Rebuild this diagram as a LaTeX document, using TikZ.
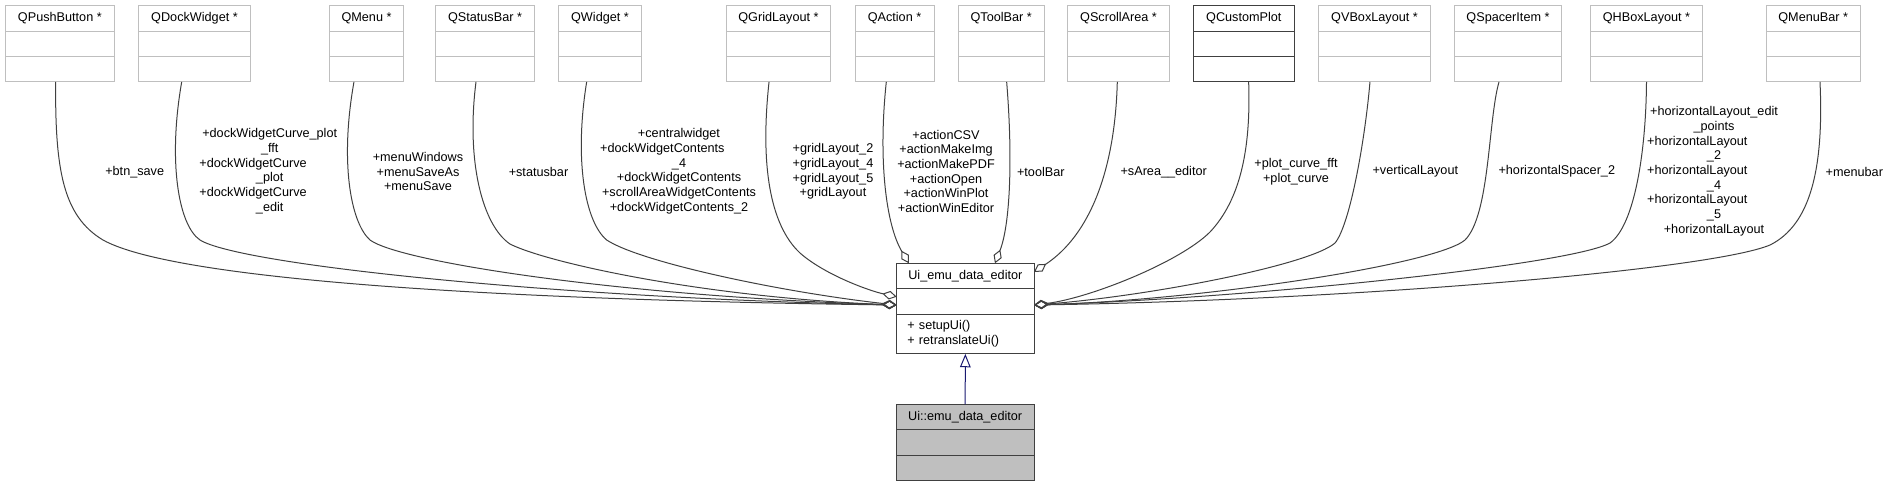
\documentclass[tikz,border=0pt]{standalone}
\usepackage{fontspec}
\setmainfont{Liberation Sans}
\usetikzlibrary{positioning,arrows.meta}

\definecolor{edgegray}{HTML}{404040}
\definecolor{boxgray}{HTML}{BFBFBF}
\definecolor{inhblue}{HTML}{191970}

% line of a label that graphviz wrapped: sits a bit to the left
\newcommand{\wrapln}[1]{\hspace*{-25pt}#1}
% class box: title, then two empty compartments
\newcommand{\umlclass}[5][cls]{%
  \node[#1, minimum width=#4*\px] (#2) at (#3,18.4) {#5};
  \node[#1, minimum width=#4*\px, below=0pt of #2] (#2-a) {};
  \node[#1, minimum width=#4*\px, below=0pt of #2-a] (#2-o) {};}

\begin{document}
\begin{tikzpicture}[x=0.75pt,y=-0.75pt,font=\fontsize{9.5}{11}\selectfont]

\def\px{0.75pt}
\tikzstyle{cls} = [
	draw=boxgray, rectangle, line width=\px, inner sep=1pt, outer sep=0pt,
	minimum height=25.4*\px ];
\tikzstyle{doc} = [cls, draw=edgegray];
\tikzstyle{base} = [doc, fill=boxgray];
\tikzstyle{lbl} = [align=center, inner sep=0pt];
\tikzstyle{agg} = [draw=edgegray, line width=\px,
	-{Diamond[open, length=11pt, width=6.5pt]}];
\tikzstyle{inh} = [draw=inhblue, line width=\px,
	-{Triangle[open, length=10pt, width=8pt]}];
\useasboundingbox (0,0) rectangle (1889,487);

\umlclass{pb}{59.85}{109.7}{QPushButton *}
\umlclass{dw}{194.5}{112.4}{QDockWidget *}
\umlclass{mn}{366.5}{73.6}{QMenu *}
\umlclass{sb}{485}{98.6}{QStatusBar *}
\umlclass{wd}{600}{83.4}{QWidget *}
\umlclass{gr}{778.5}{104.4}{QGridLayout *}
\umlclass{ac}{894.5}{79}{QAction *}
\umlclass{tb}{1001.2}{85.7}{QToolBar *}
\umlclass{sa}{1118.5}{101.6}{QScrollArea *}
\umlclass[doc]{cp}{1243.85}{100.3}{QCustomPlot}
\umlclass{vb}{1374.5}{112.4}{QVBoxLayout *}
\umlclass{sp}{1508}{106.6}{QSpacerItem *}
\umlclass{hb}{1646.5}{112.4}{QHBoxLayout *}
\umlclass{mb}{1813.2}{93.7}{QMenuBar *}

\node[doc, minimum width=137.3*\px] (ui) at (965.35,276) {Ui\_emu\_data\_editor};
\node[doc, minimum width=137.3*\px, below=0pt of ui] (ui-a) {};
\node[doc, minimum height=39.8*\px, align=left, text width=87pt, inner xsep=8pt,
	below=0pt of ui-a] (ui-o) {+ setupUi()\\+ retranslateUi()};

\node[base, minimum width=138.3*\px] (sub) at (965.15,417.1) {Ui::emu\_data\_editor};
\node[base, minimum width=138.3*\px, below=0pt of sub] (sub-a) {};
\node[base, minimum width=138.3*\px, below=0pt of sub-a] (sub-o) {};

\draw[inh] (sub.north) -- (ui-o.south);

% members on the left
\draw[agg] ([xshift=-3.15pt]pb-o.south) .. controls (55,170) and (63,216) .. (103,240)
	.. controls (175,280) and (500,300) .. ([yshift=-2.7pt]ui-a.west);
\draw[agg] ([xshift=-9.6pt]dw-o.south) .. controls (168,160) and (178,225) .. (200,240)
	.. controls (240,265) and (560,298) .. ([yshift=-2.7pt]ui-a.west);
\draw[agg] ([xshift=-9.4pt]mn-o.south) .. controls (340,160) and (350,222) .. (370,240)
	.. controls (400,262) and (620,296) .. ([yshift=-2.7pt]ui-a.west);
\draw[agg] ([xshift=-6.75pt]sb-o.south) .. controls (466,160) and (482,225) .. (510,244)
	.. controls (545,262) and (700,297) .. ([yshift=-2.7pt]ui-a.west);
\draw[agg] ([xshift=-10pt]wd-o.south) .. controls (574,160) and (585,222) .. (606.7,240)
	.. controls (640,262) and (780,292) .. ([yshift=-2.7pt]ui-a.west);
\draw[agg] ([xshift=-7.1pt]gr-o.south) .. controls (760,165) and (770,225) .. (800,253)
	.. controls (825,275) and (870,291) .. ([yshift=3.5pt]ui-a.west);

% members on top
\draw[agg] ([xshift=-6.15pt]ac-o.south) .. controls (878,160) and (886,225) .. ([xshift=-42.3pt]ui.north);
\draw[agg] ([xshift=4.1pt]tb-o.south) .. controls (1013,160) and (1010,225) .. ([xshift=22.2pt]ui.north);
\draw[agg] ([xshift=-0.9pt]sa-o.south) .. controls (1115,170) and (1090,235) .. ([yshift=-6.5pt]ui.north east);

% members on the right
\draw[agg] ([xshift=3.6pt]cp-o.south) .. controls (1251,150) and (1240,200) .. (1210,232)
	.. controls (1180,262) and (1090,298) .. ([yshift=-2.7pt]ui-a.east);
\draw[agg] ([xshift=-3.4pt]vb-o.south) .. controls (1365,140) and (1350,225) .. (1335,243)
	.. controls (1310,265) and (1150,296) .. ([yshift=-2.7pt]ui-a.east);
\draw[agg] ([xshift=-6.75pt]sp-o.south) .. controls (1488,120) and (1490,215) .. (1465,240)
	.. controls (1435,265) and (1200,300) .. ([yshift=-2.7pt]ui-a.east);
\draw[agg] (hb-o.south) .. controls (1646,150) and (1635,225) .. (1610,243)
	.. controls (1570,265) and (1250,298) .. ([yshift=-2.7pt]ui-a.east);
\draw[agg] ([xshift=5.1pt]mb-o.south) .. controls (1824,170) and (1810,225) .. (1770,245)
	.. controls (1710,270) and (1350,300) .. ([yshift=-2.7pt]ui-a.east);

% member names
\node[lbl] (l-pb) at (134.7,171.7) {+btn\_save};
\node[lbl] (l-dw) at (269.7,171.3) {+dockWidgetCurve\_plot\\\_fft\\\wrapln{+dockWidgetCurve}\\\_plot\\\wrapln{+dockWidgetCurve}\\\_edit};
\node[lbl] (l-mn) at (418,171.7) {+menuWindows\\+menuSaveAs\\+menuSave};
\node[lbl] (l-sb) at (538.5,171.7) {+statusbar};
\node[lbl] (l-wd) at (679,171.3) {+centralwidget\\\wrapln{+dockWidgetContents}\\\_4\\+dockWidgetContents\\+scrollAreaWidgetContents\\+dockWidgetContents\_2};
\node[lbl] (l-gr) at (833,171.5) {+gridLayout\_2\\+gridLayout\_4\\+gridLayout\_5\\+gridLayout};
\node[lbl] (l-ac) at (946,171.3) {+actionCSV\\+actionMakeImg\\+actionMakePDF\\+actionOpen\\+actionWinPlot\\+actionWinEditor};
\node[lbl] (l-tb) at (1040.8,171.7) {+toolBar};
\node[lbl] (l-sa) at (1163.7,171.7) {+sArea\_\_editor};
\node[lbl] (l-cp) at (1296,171.7) {+plot\_curve\_fft\\+plot\_curve};
\node[lbl] (l-vb) at (1415.3,171.7) {+verticalLayout};
\node[lbl] (l-sp) at (1556.8,171.7) {+horizontalSpacer\_2};
\node[lbl] (l-hb) at (1714,171.3) {+horizontalLayout\_edit\\\_points\\\wrapln{+horizontalLayout}\\\_2\\\wrapln{+horizontalLayout}\\\_4\\\wrapln{+horizontalLayout}\\\_5\\+horizontalLayout};
\node[lbl] (l-mb) at (1854.3,171.7) {+menubar};

\end{tikzpicture}
\end{document}
